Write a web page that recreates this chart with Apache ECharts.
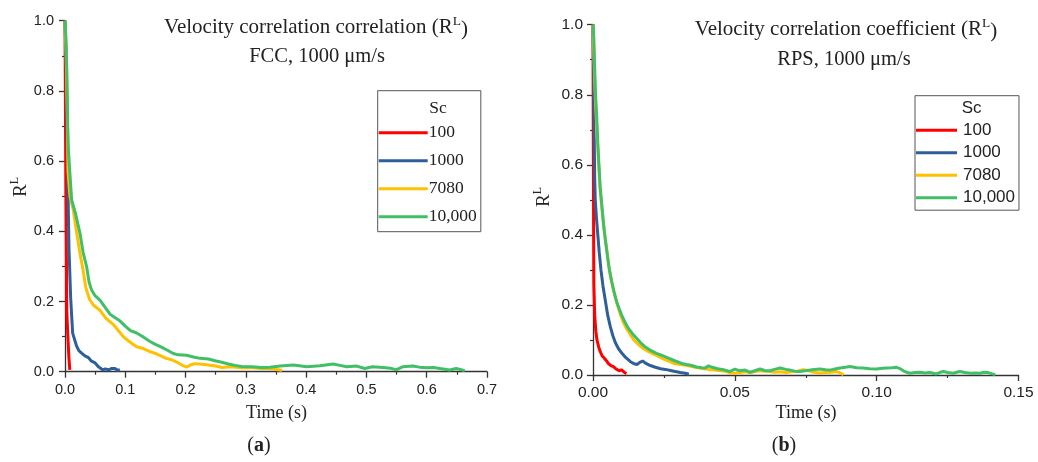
<!DOCTYPE html>
<html>
<head>
<meta charset="utf-8">
<script src="https://cdn.jsdelivr.net/npm/echarts@6/dist/echarts.min.js"></script>
<style>
  html, body { margin: 0; padding: 0; background: #ffffff; }
  #chart { width: 1038px; height: 462px; }
</style>
</head>
<body>
<div id="chart"></div>
<script>
// Lagrangian velocity correlation R^L versus time, [t (s), R^L] pairs per Schmidt number.

// ---- FCC packing, 1000 um/s ----
const fccSc100 = [[0,1.0],[0.001,0.65],[0.002,0.40],[0.003,0.17],[0.005,0.09],[0.0065,0.04],[0.008,0.005]];
const fccSc1000 = [[0,1.0],[0.002,0.88],[0.004,0.62],[0.0066,0.35],[0.0094,0.21],[0.0127,0.11],[0.019,0.074],[0.023,0.06],[0.0276,0.053],[0.033,0.045],[0.039,0.04],[0.044,0.03],[0.050,0.025],[0.055,0.015],[0.058,0.012],[0.063,0.005],[0.067,0.008],[0.072,0.005],[0.077,0.009],[0.083,0.009],[0.087,0.004],[0.091,0.006]];
const fccSc7080 = [[0,1.0],[0.002,0.90],[0.004,0.72],[0.005,0.57],[0.0083,0.50],[0.0138,0.46],[0.019,0.40],[0.0245,0.34],[0.030,0.29],[0.0345,0.24],[0.041,0.205],[0.047,0.19],[0.058,0.175],[0.068,0.152],[0.080,0.135],[0.088,0.118],[0.0967,0.10],[0.105,0.088],[0.112,0.079],[0.119,0.071],[0.13,0.066],[0.141,0.057],[0.15,0.052],[0.158,0.046],[0.168,0.038],[0.177,0.034],[0.188,0.025],[0.196,0.017],[0.2018,0.013],[0.208,0.019],[0.216,0.023],[0.227,0.021],[0.238,0.019],[0.25,0.016],[0.26,0.012],[0.275,0.014],[0.293,0.011],[0.31,0.012],[0.326,0.009],[0.34,0.010],[0.35,0.006],[0.36,0.004]];
const fccSc10000 = [[0,1.0],[0.0015,0.95],[0.003,0.86],[0.0038,0.78],[0.0045,0.70],[0.0055,0.64],[0.0068,0.60],[0.0083,0.56],[0.011,0.49],[0.0175,0.45],[0.0249,0.394],[0.030,0.34],[0.0359,0.299],[0.040,0.255],[0.044,0.233],[0.0497,0.217],[0.058,0.204],[0.066,0.185],[0.0746,0.164],[0.082,0.155],[0.091,0.145],[0.100,0.13],[0.1085,0.117],[0.118,0.111],[0.128,0.101],[0.141,0.086],[0.15,0.078],[0.16,0.07],[0.17,0.061],[0.1796,0.052],[0.188,0.048],[0.2018,0.047],[0.213,0.042],[0.224,0.038],[0.238,0.036],[0.249,0.031],[0.26,0.027],[0.271,0.022],[0.282,0.018],[0.293,0.015],[0.31,0.014],[0.326,0.012],[0.34,0.013],[0.357,0.016],[0.379,0.019],[0.401,0.014],[0.423,0.017],[0.445,0.022],[0.456,0.018],[0.467,0.014],[0.484,0.016],[0.497,0.009],[0.51,0.014],[0.527,0.012],[0.54,0.010],[0.549,0.005],[0.56,0.014],[0.577,0.016],[0.588,0.013],[0.60,0.011],[0.611,0.012],[0.622,0.009],[0.638,0.005],[0.649,0.009],[0.657,0.006],[0.663,0.003]];

// ---- RPS packing, 1000 um/s ----
const rpsSc100 = [[0,1.0],[0.0001,0.66],[0.0002,0.45],[0.0003,0.26],[0.0006,0.17],[0.001,0.125],[0.0014,0.10],[0.002,0.08],[0.0025,0.068],[0.0032,0.055],[0.004,0.048],[0.0048,0.04],[0.0055,0.032],[0.0063,0.027],[0.0072,0.024],[0.008,0.018],[0.0085,0.016],[0.0092,0.012],[0.010,0.015],[0.0107,0.010],[0.0113,0.006],[0.0118,0.004]];
const rpsSc1000 = [[0,1.0],[0.0002,0.88],[0.0004,0.70],[0.0006,0.56],[0.0008,0.50],[0.0012,0.45],[0.0017,0.40],[0.0022,0.35],[0.0028,0.30],[0.0035,0.255],[0.0044,0.21],[0.0052,0.17],[0.0061,0.138],[0.007,0.112],[0.0079,0.092],[0.009,0.075],[0.0102,0.062],[0.0115,0.05],[0.0132,0.038],[0.0145,0.032],[0.0155,0.030],[0.0165,0.036],[0.0175,0.040],[0.0185,0.034],[0.0202,0.027],[0.022,0.022],[0.0238,0.018],[0.0255,0.016],[0.0273,0.013],[0.029,0.010],[0.0308,0.007],[0.0325,0.005],[0.0338,0.002]];
const rpsSc7080 = [[0,1.0],[0.0003,0.92],[0.0006,0.84],[0.001,0.76],[0.0015,0.68],[0.002,0.60],[0.0025,0.53],[0.0031,0.48],[0.0037,0.43],[0.0043,0.39],[0.005,0.35],[0.0055,0.315],[0.0062,0.28],[0.007,0.25],[0.0079,0.22],[0.0088,0.195],[0.0098,0.17],[0.0108,0.148],[0.012,0.13],[0.0132,0.115],[0.0144,0.10],[0.016,0.087],[0.0175,0.077],[0.0193,0.068],[0.021,0.061],[0.0226,0.055],[0.0245,0.047],[0.0265,0.04],[0.0285,0.033],[0.031,0.030],[0.0336,0.026],[0.036,0.022],[0.0383,0.019],[0.041,0.016],[0.0442,0.013],[0.0465,0.011],[0.0483,0.006],[0.05,0.005],[0.052,0.007],[0.054,0.009],[0.0555,0.006],[0.057,0.010],[0.0589,0.012],[0.0605,0.011],[0.0624,0.010],[0.064,0.008],[0.066,0.009],[0.068,0.007],[0.07,0.009],[0.072,0.011],[0.0741,0.015],[0.076,0.012],[0.078,0.008],[0.08,0.006],[0.082,0.007],[0.084,0.008],[0.0859,0.010],[0.087,0.006],[0.0883,0.001]];
const rpsSc10000 = [[0,1.0],[0.0003,0.96],[0.0005,0.90],[0.0009,0.80],[0.0013,0.74],[0.0017,0.66],[0.0021,0.60],[0.0025,0.54],[0.003,0.495],[0.0035,0.45],[0.004,0.41],[0.0046,0.37],[0.0052,0.333],[0.0058,0.30],[0.0066,0.267],[0.0074,0.238],[0.0083,0.21],[0.0092,0.19],[0.0101,0.171],[0.0112,0.152],[0.0125,0.133],[0.0139,0.118],[0.0154,0.105],[0.0168,0.092],[0.0183,0.081],[0.0203,0.07],[0.0224,0.062],[0.0245,0.055],[0.0266,0.048],[0.029,0.04],[0.0313,0.033],[0.033,0.030],[0.0348,0.027],[0.0365,0.023],[0.0383,0.021],[0.0395,0.020],[0.0407,0.026],[0.042,0.022],[0.044,0.018],[0.0465,0.014],[0.0483,0.010],[0.05,0.017],[0.0518,0.012],[0.0536,0.014],[0.0553,0.008],[0.057,0.012],[0.0589,0.017],[0.0605,0.013],[0.0624,0.012],[0.064,0.016],[0.066,0.020],[0.068,0.016],[0.0694,0.014],[0.0712,0.011],[0.073,0.010],[0.0748,0.012],[0.0765,0.014],[0.078,0.016],[0.08,0.017],[0.082,0.015],[0.0836,0.014],[0.0853,0.017],[0.0871,0.020],[0.089,0.022],[0.0906,0.024],[0.093,0.021],[0.0953,0.020],[0.0975,0.018],[0.10,0.017],[0.102,0.019],[0.1036,0.020],[0.1055,0.021],[0.107,0.022],[0.108,0.019],[0.1094,0.012],[0.1105,0.008],[0.1118,0.005],[0.1135,0.007],[0.1153,0.008],[0.117,0.006],[0.1188,0.007],[0.121,0.003],[0.1222,0.007],[0.1235,0.010],[0.125,0.007],[0.127,0.005],[0.1282,0.008],[0.1294,0.010],[0.131,0.007],[0.133,0.005],[0.1348,0.006],[0.1365,0.005],[0.1375,0.007],[0.1388,0.008],[0.1405,0.004],[0.1418,0.001]];

// Series names (Schmidt numbers) and tick labels
const scNames = ['100', '1000', '7080', '10,000'];
const fccTimeTicks = ['0.0', '0.1', '0.2', '0.3', '0.4', '0.5', '0.6', '0.7'];
const rpsTimeTicks = ['0.00', '0.05', '0.10', '0.15'];
const rTicks = ['0.0', '0.2', '0.4', '0.6', '0.8', '1.0'];

const lineColors = ['#ff0000', '#2f5f99', '#ffc000', '#40bf66'];
const SERIF = '"Liberation Serif", "DejaVu Serif", serif';
const SANS = '"Liberation Sans", Arial, sans-serif';
const AXIS_COLOR = '#333333';
const TEXT_COLOR = '#222222';

function tickFormatter(labels, step) {
  return function (v) {
    const i = Math.round(v / step);
    return labels[i] !== undefined ? labels[i] : '';
  };
}

function makeXAxis(gridIndex, max, step, labels, fontSize, margin) {
  return {
    type: 'value', gridIndex: gridIndex, min: 0, max: max, interval: step,
    axisLine: { show: true, onZero: false, lineStyle: { color: AXIS_COLOR, width: 1.3 } },
    axisTick: { show: true, length: 6, lineStyle: { color: AXIS_COLOR, width: 1.3 } },
    minorTick: { show: true, splitNumber: 2, length: 3, lineStyle: { color: AXIS_COLOR, width: 1.2 } },
    splitLine: { show: false },
    axisLabel: { fontFamily: SANS, fontSize: fontSize, color: TEXT_COLOR, margin: margin,
                 formatter: tickFormatter(labels, step) }
  };
}
function makeYAxis(gridIndex, fontSize, margin) {
  return {
    type: 'value', gridIndex: gridIndex, min: 0, max: 1, interval: 0.2,
    axisLine: { show: true, onZero: false, lineStyle: { color: AXIS_COLOR, width: 1.3 } },
    axisTick: { show: true, length: 6, lineStyle: { color: AXIS_COLOR, width: 1.3 } },
    minorTick: { show: true, splitNumber: 2, length: 3, lineStyle: { color: AXIS_COLOR, width: 1.2 } },
    splitLine: { show: false },
    axisLabel: { fontFamily: SANS, fontSize: fontSize, color: TEXT_COLOR, margin: margin,
                 formatter: tickFormatter(rTicks, 0.2) }
  };
}

function makeSeries(gridIdx, datasets) {
  return datasets.map(function (d, i) {
    return {
      name: scNames[i], type: 'line', xAxisIndex: gridIdx, yAxisIndex: gridIdx,
      data: d, symbol: 'none', showSymbol: false, smooth: false,
      lineStyle: { color: lineColors[i], width: 3 },
      itemStyle: { color: lineColors[i] },
      animation: false, clip: false
    };
  });
}

const supRich = {
  b: { fontFamily: SERIF, fontSize: 21, fill: TEXT_COLOR, lineHeight: 25, verticalAlign: 'bottom' },
  s: { fontFamily: SERIF, fontSize: 13.5, fill: TEXT_COLOR, lineHeight: 13, verticalAlign: 'top' }
};
const axisNameRich = {
  b: { fontFamily: SERIF, fontSize: 19, fill: TEXT_COLOR, lineHeight: 22, verticalAlign: 'bottom' },
  s: { fontFamily: SERIF, fontSize: 12, fill: TEXT_COLOR, lineHeight: 12, verticalAlign: 'top' }
};

function txt(x, y, text, font, extra) {
  const el = { type: 'text', x: x, y: y, silent: true,
    style: Object.assign({ text: text, font: font, fill: TEXT_COLOR, align: 'center', verticalAlign: 'middle' }, extra || {}) };
  return el;
}

const chart = echarts.init(document.getElementById('chart'), null, { renderer: 'canvas' });
chart.setOption({
  animation: false,
  backgroundColor: '#ffffff',
  grid: [
    { left: 65, top: 20.7, width: 422, height: 351, outerBoundsMode: 'none', containLabel: false },
    { left: 593, top: 24.7, width: 425.5, height: 350.3, outerBoundsMode: 'none', containLabel: false }
  ],
  xAxis: [
    makeXAxis(0, 0.7, 0.1, fccTimeTicks, 14.5, 11),
    makeXAxis(1, 0.15, 0.05, rpsTimeTicks, 15.5, 10)
  ],
  yAxis: [
    makeYAxis(0, 14.5, 11),
    makeYAxis(1, 15.5, 10)
  ],
  legend: [
    { data: scNames, orient: 'vertical', left: 377.7, top: 90.7, icon: 'rect', itemWidth: 49, itemHeight: 3, itemGap: 10,
      padding: [33, 4, 6, 1], borderColor: '#555555', borderWidth: 1, selectedMode: false,
      textStyle: { fontFamily: SERIF, fontSize: 17.5, color: TEXT_COLOR, padding: [0, 0, 0, -4] } },
    { data: scNames, orient: 'vertical', left: 915, top: 95.7, icon: 'rect', itemWidth: 41, itemHeight: 3, itemGap: 5.5,
      padding: [26, 4, 4, 1], borderColor: '#555555', borderWidth: 1, selectedMode: false,
      textStyle: { fontFamily: SANS, fontSize: 17, color: TEXT_COLOR, padding: [0, 0, 0, 1] } }
  ],
  series: makeSeries(0, [fccSc100, fccSc1000, fccSc7080, fccSc10000])
    .concat(makeSeries(1, [rpsSc100, rpsSc1000, rpsSc7080, rpsSc10000])),
  graphic: [
    // panel (a) titles
    txt(316, 27, 'Velocity correlation correlation (R{s|L}{b|)}', '21px ' + SERIF, { rich: supRich }),
    txt(317, 57, 'FCC, 1000 \u03bcm/s', '20.5px ' + SERIF),
    // panel (b) titles
    txt(846, 29, 'Velocity correlation coefficient (R{s|L}{b|)}', '21px ' + SERIF, { rich: supRich }),
    txt(844, 60, 'RPS, 1000 \u03bcm/s', '20.5px ' + SERIF),
    // y-axis names
    Object.assign(txt(20, 187, '{b|R}{s|L}', '19px ' + SERIF, { rich: axisNameRich }), { rotation: Math.PI / 2 }),
    Object.assign(txt(543, 197, '{b|R}{s|L}', '19px ' + SERIF, { rich: axisNameRich }), { rotation: Math.PI / 2 }),
    // x-axis names
    txt(276.5, 413, 'Time (s)', '18px ' + SERIF),
    txt(806, 413.5, 'Time (s)', '18px ' + SERIF),
    // legend headings
    txt(438, 108, 'Sc', '17.5px ' + SERIF),
    txt(971.7, 108, 'Sc', '17px ' + SANS),
    // panel labels
    txt(259, 446, '({b|a})', '20px ' + SERIF, { rich: { b: { fontFamily: SERIF, fontSize: 20, fontWeight: 'bold', fill: TEXT_COLOR } } }),
    txt(784, 446, '({b|b})', '20px ' + SERIF, { rich: { b: { fontFamily: SERIF, fontSize: 20, fontWeight: 'bold', fill: TEXT_COLOR } } })
  ]
});
</script>
</body>
</html>
